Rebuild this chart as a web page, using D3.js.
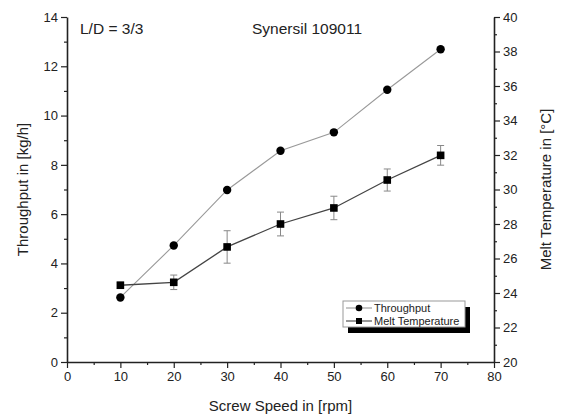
<!DOCTYPE html>
<html>
<head>
<meta charset="utf-8">
<script src="https://cdn.jsdelivr.net/npm/d3@7"></script>
<style>
  body { margin: 0; background: #fff; }
  svg { font-family: "Liberation Sans", Arial, sans-serif; }
</style>
</head>
<body>
<div id="chart"></div>
<script>
// data
const speeds = [10, 20, 30, 40, 50, 60, 70];
const throughput = [2.62, 4.73, 6.98, 8.57, 9.32, 11.05, 12.69];
const meltTemp = [24.45, 24.62, 26.67, 28.0, 28.93, 30.55, 31.98];
const meltErr = [0.18, 0.42, 0.94, 0.69, 0.68, 0.64, 0.57];
const legendLabels = ["Throughput", "Melt Temperature"];

const W = 562, H = 417;
const margin = {top: 17, right: 68, bottom: 55, left: 67};
const width = W - margin.left - margin.right;
const height = H - margin.top - margin.bottom;

const svg = d3.select("#chart").append("svg")
    .attr("width", W).attr("height", H);
const g = svg.append("g")
    .attr("transform", `translate(${margin.left},${margin.top})`);

const x = d3.scaleLinear().domain([0, 80]).range([0, width]);
const yL = d3.scaleLinear().domain([0, 14]).range([height, 0]);
const yR = d3.scaleLinear().domain([20, 40]).range([height, 0]);

// minor ticks first
g.append("g").attr("transform", `translate(0,${height})`)
    .call(d3.axisBottom(x).tickValues(d3.range(5, 80, 10)).tickSize(3).tickFormat(""))
    .call(a => a.select(".domain").remove());
g.append("g")
    .call(d3.axisLeft(yL).tickValues(d3.range(1, 14, 2)).tickSize(3).tickFormat(""))
    .call(a => a.select(".domain").remove());
g.append("g").attr("transform", `translate(${width},0)`)
    .call(d3.axisRight(yR).tickValues(d3.range(21, 40, 2)).tickSize(3).tickFormat(""))
    .call(a => a.select(".domain").remove());

const xAxis = g.append("g").attr("transform", `translate(0,${height})`)
    .call(d3.axisBottom(x).tickValues(d3.range(0, 81, 10)).tickSize(6).tickSizeOuter(0).tickPadding(4));
const yAxisL = g.append("g")
    .call(d3.axisLeft(yL).tickValues(d3.range(0, 15, 2)).tickSize(6).tickSizeOuter(0).tickPadding(3));
const yAxisR = g.append("g").attr("transform", `translate(${width},0)`)
    .call(d3.axisRight(yR).tickValues(d3.range(20, 41, 2)).tickSize(6).tickSizeOuter(0).tickPadding(3));

g.selectAll(".tick line").attr("stroke", "#222").attr("stroke-width", 1.2);
g.selectAll(".domain").attr("stroke", "#222").attr("stroke-width", 1.6);
g.selectAll(".tick text").attr("font-size", 13).attr("fill", "#222")
    .attr("font-family", "Liberation Sans, Arial, sans-serif");

// throughput line
const lineT = d3.line().x((d, i) => x(speeds[i])).y(d => yL(d));
g.append("path").datum(throughput)
    .attr("d", lineT).attr("fill", "none")
    .attr("stroke", "#999").attr("stroke-width", 1.1);

// melt temperature line
const lineM = d3.line().x((d, i) => x(speeds[i])).y(d => yR(d));
g.append("path").datum(meltTemp)
    .attr("d", lineM).attr("fill", "none")
    .attr("stroke", "#444").attr("stroke-width", 1.3);

// error bars
const eb = g.append("g").attr("stroke", "#888").attr("stroke-width", 1);
meltTemp.forEach((v, i) => {
    const cx = x(speeds[i]);
    const y0 = yR(v - meltErr[i]), y1 = yR(v + meltErr[i]);
    eb.append("line").attr("x1", cx).attr("x2", cx).attr("y1", y0).attr("y2", y1);
    eb.append("line").attr("x1", cx - 3.5).attr("x2", cx + 3.5).attr("y1", y0).attr("y2", y0);
    eb.append("line").attr("x1", cx - 3.5).attr("x2", cx + 3.5).attr("y1", y1).attr("y2", y1);
});

// markers
g.selectAll(".dotT").data(throughput).join("circle")
    .attr("cx", (d, i) => x(speeds[i])).attr("cy", d => yL(d))
    .attr("r", 4.2).attr("fill", "#000");
g.selectAll(".dotM").data(meltTemp).join("rect")
    .attr("x", (d, i) => x(speeds[i]) - 3.8).attr("y", d => yR(d) - 3.8)
    .attr("width", 7.6).attr("height", 7.6).attr("fill", "#000");

// annotations
svg.append("text").attr("x", 80).attr("y", 34)
    .attr("font-size", 15.5).attr("fill", "#222").text("L/D = 3/3");
svg.append("text").attr("x", 252).attr("y", 34)
    .attr("font-size", 15.5).attr("fill", "#222").text("Synersil 109011");

// axis titles
svg.append("text").attr("x", margin.left + width / 2).attr("y", 411)
    .attr("text-anchor", "middle").attr("font-size", 15).attr("fill", "#222")
    .text("Screw Speed in [rpm]");
svg.append("text")
    .attr("transform", `translate(28,${margin.top + height / 2}) rotate(-90)`)
    .attr("text-anchor", "middle").attr("font-size", 15).attr("fill", "#222")
    .text("Throughput in [kg/h]");
svg.append("text")
    .attr("transform", `translate(551,${margin.top + height / 2}) rotate(-90)`)
    .attr("text-anchor", "middle").attr("font-size", 15).attr("fill", "#222")
    .text("Melt Temperature in [°C]");

// legend
const lg = svg.append("g").attr("transform", "translate(343,301)");
lg.append("rect").attr("x", 5).attr("y", 6).attr("width", 122).attr("height", 26).attr("fill", "#000");
lg.append("rect").attr("x", 0).attr("y", 0).attr("width", 122).attr("height", 26)
    .attr("fill", "#fff").attr("stroke", "#999").attr("stroke-width", 1);
legendLabels.forEach((lab, i) => {
    const ly = 7 + i * 13;
    lg.append("line").attr("x1", 3).attr("x2", 29).attr("y1", ly).attr("y2", ly)
        .attr("stroke", i === 0 ? "#999" : "#444").attr("stroke-width", 1.1);
    if (i === 0) {
        lg.append("circle").attr("cx", 16).attr("cy", ly).attr("r", 3.3).attr("fill", "#000");
    } else {
        lg.append("rect").attr("x", 13).attr("y", ly - 3).attr("width", 6).attr("height", 6).attr("fill", "#000");
    }
    lg.append("text").attr("x", 31).attr("y", ly + 3.8)
        .attr("font-size", 11).attr("fill", "#222").text(lab);
});
</script>
</body>
</html>
